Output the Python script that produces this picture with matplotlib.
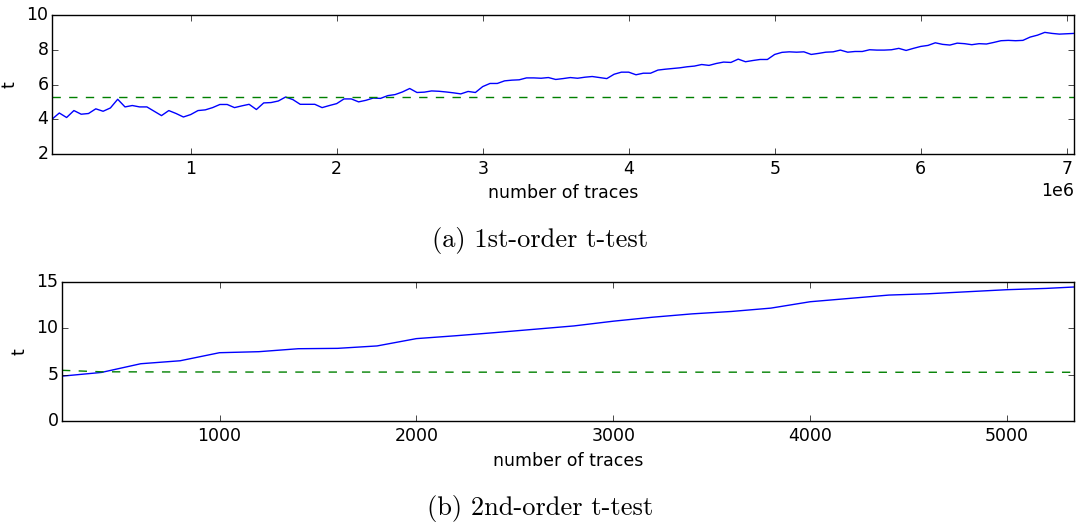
import numpy as np
import matplotlib
matplotlib.use("Agg")
import matplotlib.pyplot as plt

plt.style.use('classic')
plt.rcParams['font.size'] = 12.5
plt.rcParams['xtick.labelsize'] = 12.5
plt.rcParams['ytick.labelsize'] = 12.5
plt.rcParams['axes.labelsize'] = 12.5
plt.rcParams['ytick.major.pad'] = 2.5

# ---- data: 1st-order t-test ----
traces_a = np.arange(1, 142) * 0.05e6
t_a = [4.0, 4.36, 4.1, 4.5, 4.29, 4.33, 4.6, 4.46, 4.65, 5.15,
       4.71, 4.79, 4.71, 4.71, 4.46, 4.21, 4.5, 4.33, 4.13, 4.27,
       4.5, 4.54, 4.67, 4.85, 4.85, 4.67, 4.77, 4.86, 4.56, 4.94,
       4.96, 5.05, 5.28, 5.13, 4.86, 4.86, 4.86, 4.67, 4.79, 4.9,
       5.17, 5.17, 5.0, 5.09, 5.22, 5.2, 5.36, 5.42, 5.57, 5.77,
       5.54, 5.56, 5.63, 5.61, 5.57, 5.52, 5.46, 5.6, 5.54, 5.88,
       6.06, 6.06, 6.21, 6.25, 6.27, 6.38, 6.38, 6.36, 6.4, 6.29,
       6.34, 6.4, 6.36, 6.42, 6.46, 6.4, 6.34, 6.59, 6.71, 6.71,
       6.56, 6.65, 6.65, 6.83, 6.88, 6.92, 6.96, 7.02, 7.06, 7.15,
       7.1, 7.21, 7.29, 7.27, 7.46, 7.31, 7.38, 7.44, 7.44, 7.73,
       7.85, 7.88, 7.86, 7.88, 7.73, 7.79, 7.86, 7.88, 7.98, 7.86,
       7.9, 7.9, 8.0, 7.98, 7.98, 8.0, 8.08, 7.96, 8.08, 8.19,
       8.25, 8.4, 8.31, 8.27, 8.38, 8.35, 8.29, 8.35, 8.33, 8.42,
       8.52, 8.54, 8.52, 8.54, 8.73, 8.84, 9.0, 8.94, 8.9, 8.92,
       8.94]
threshold_a = 5.26

# ---- data: 2nd-order t-test ----
traces_b = [200, 400, 600, 800, 1000, 1200, 1400, 1600, 1800, 2000,
            2200, 2400, 2600, 2800, 3000, 3200, 3400, 3600, 3800, 4000,
            4200, 4400, 4600, 4800, 5000, 5200, 5340]
t_b = [4.84, 5.24, 6.18, 6.5, 7.37, 7.48, 7.8, 7.84, 8.1, 8.89,
       9.2, 9.54, 9.9, 10.26, 10.77, 11.2, 11.56, 11.82, 12.18, 12.87,
       13.23, 13.59, 13.73, 13.95, 14.17, 14.31, 14.46]
threshold_b = [5.47, 5.31, 5.3, 5.29, 5.29, 5.28, 5.28, 5.28, 5.28, 5.28,
               5.27, 5.27, 5.27, 5.27, 5.27, 5.27, 5.27, 5.27, 5.27, 5.27,
               5.26, 5.26, 5.26, 5.26, 5.26, 5.26, 5.26]

caption_a = "(a) 1st-order t-test"
caption_b = "(b) 2nd-order t-test"

fig = plt.figure(figsize=(10.81, 5.25), dpi=100, facecolor='white')

ax1 = fig.add_axes([52/1081, (525-154)/525, (1074-52)/1081, 139/525])
ax1.plot(traces_a, t_a, 'b-', lw=1.0)
ax1.plot([traces_a[0], traces_a[-1]], [threshold_a, threshold_a], 'g--', lw=1.0)
ax1.set_xlim(traces_a[0], traces_a[-1])
ax1.set_ylim(2, 10)
ax1.set_yticks([2, 4, 6, 8, 10])
ax1.ticklabel_format(style='sci', axis='x', scilimits=(0, 0), useMathText=False)
ax1.set_xlabel("number of traces")
ax1.set_ylabel("t", labelpad=6)

ax2 = fig.add_axes([62/1081, (525-421)/525, (1074-62)/1081, 139/525])
ax2.plot(traces_b, t_b, 'b-', lw=1.0)
ax2.plot(traces_b, threshold_b, 'g--', lw=1.0)
ax2.set_xlim(traces_b[0], traces_b[-1])
ax2.set_ylim(0, 15)
ax2.set_yticks([0, 5, 10, 15])
ax2.set_xlabel("number of traces")
ax2.set_ylabel("t", labelpad=6)

for ax in (ax1, ax2):
    ax.set_facecolor('white')

fig.text(0.5, (525-240)/525, caption_a, ha='center', va='center',
         fontfamily='cmr10', fontsize=19)
fig.text(0.5, (525-508)/525, caption_b, ha='center', va='center',
         fontfamily='cmr10', fontsize=19)

fig.savefig("out.png", dpi=100, facecolor='white')
